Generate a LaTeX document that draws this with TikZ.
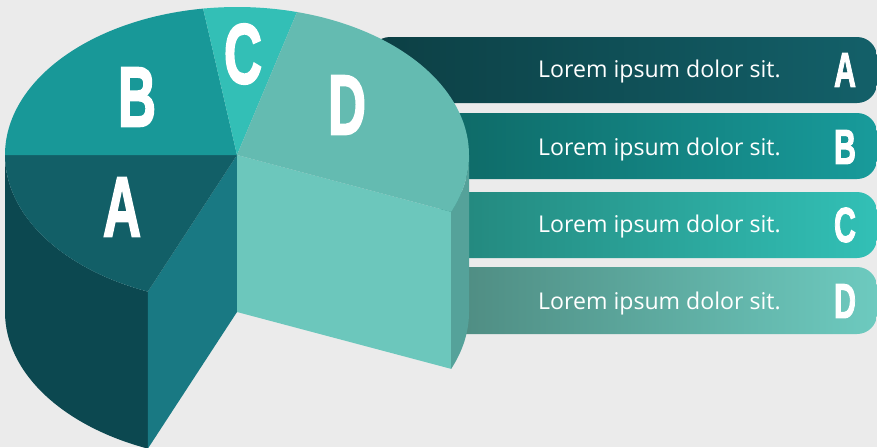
\documentclass[tikz,border=0pt]{standalone}
\usepackage{fontspec}
\setmainfont{Open Sans}
\newfontfamily\letterfont{Liberation Sans}[UprightFont=*-Bold, FakeBold=2.5]
\usetikzlibrary{calc}
\definecolor{bg}{HTML}{EBEBEB}
\definecolor{Atop}{HTML}{125F67}
\definecolor{Aside}{HTML}{0C4850}
\definecolor{Acut}{HTML}{197983}
\definecolor{Btop}{HTML}{189898}
\definecolor{Ctop}{HTML}{33BFB6}
\definecolor{Dtop}{HTML}{64BBB1}
\definecolor{Dcut}{HTML}{6CC7BC}
\definecolor{Dside}{HTML}{55A29A}
\definecolor{barAl}{HTML}{0C3F44}
\definecolor{barAr}{HTML}{136069}
\definecolor{barBl}{HTML}{0E6966}
\definecolor{barBr}{HTML}{189B9B}
\definecolor{barCl}{HTML}{23867C}
\definecolor{barCr}{HTML}{32C0B6}
\definecolor{barDl}{HTML}{4E8A80}
\definecolor{barDr}{HTML}{6DCABF}
\tikzset{
  bar/.style={rounded corners=20pt},
  ell/.style={x radius=232, y radius=148},
  pieletter/.style={text=white, inner sep=0pt, font=\letterfont\fontsize{85}{85}\selectfont},
  barletter/.style={text=white, inner sep=0pt, anchor=center, font=\letterfont\fontsize{49}{49}\selectfont},
  bartext/.style={text=white, inner sep=0pt, anchor=base west, font=\fontsize{23.1}{23.1}\selectfont},
}
\begin{document}
\begin{tikzpicture}[x=1pt,y=-1pt]
\fill[bg] (0,0) rectangle (877,447);
\useasboundingbox (0,0) rectangle (877,447);
% bars
\shade[bar, left color=barAl, right color=barAr] (370,37) rectangle (877,103);
\shade[bar, left color=barBl, right color=barBr] (440,113) rectangle (877,179);
\shade[bar, left color=barCl, right color=barCr] (440,192) rectangle (877,258);
\shade[bar, left color=barDl, right color=barDr] (440,267) rectangle (877,334);
\node[bartext] (tA) at (538,77.7) {Lorem ipsum dolor sit.};
\node[bartext] (tB) at (538,155.5) {Lorem ipsum dolor sit.};
\node[bartext] (tC) at (538,232.7) {Lorem ipsum dolor sit.};
\node[bartext] (tD) at (538,309.3) {Lorem ipsum dolor sit.};
\node[barletter] (lA) at (845,70) {\scalebox{0.62}[1]{A}};
\node[barletter] (lB) at (845,147) {\scalebox{0.62}[1]{B}};
\node[barletter] (lC) at (845,225) {\scalebox{0.62}[1]{C}};
\node[barletter] (lD) at (845,301) {\scalebox{0.62}[1]{D}};
% pie
\coordinate (O) at (237,155);
\coordinate (Ob) at (237,312);
\coordinate (P0) at ($(O)+(0:232 and 148)$);
\coordinate (P22) at ($(O)+(22.6:232 and 148)$);
\coordinate (P112) at ($(O)+(112.6:232 and 148)$);
\coordinate (P180) at ($(O)+(180:232 and 148)$);
\coordinate (P261) at ($(O)+(261.6:232 and 148)$);
\coordinate (P285) at ($(O)+(285:232 and 148)$);
% A outer side
\fill[Aside] (P112) arc[start angle=112.6, end angle=180, ell]
  -- ++(0,157) arc[start angle=180, end angle=112.6, ell] -- cycle;
% A cut face
\fill[Acut] (O) -- (P112) -- ++(0,157) -- (Ob) -- cycle;
% D cut face
\fill[Dcut] (O) -- (P22) -- ++(0,157) -- (Ob) -- cycle;
% D outer side
\fill[Dside] (P0) arc[start angle=0, end angle=22.6, ell]
  -- ++(0,157) arc[start angle=22.6, end angle=0, ell] -- cycle;
% tops
\fill[Atop] (O) -- (P112) arc[start angle=112.6, end angle=180, ell] -- cycle;
\fill[Btop] (O) -- (P180) arc[start angle=180, end angle=261.6, ell] -- cycle;
\fill[Ctop] (O) -- (P261) arc[start angle=261.6, end angle=285, ell] -- cycle;
\fill[Dtop] (O) -- (P285) arc[start angle=285, end angle=382.6, ell] -- cycle;
\node[pieletter] (pA) at (122,207) {\scalebox{0.62}[1]{A}};
\node[pieletter] (pB) at (137,97) {\scalebox{0.62}[1]{B}};
\node[pieletter] (pC) at (243,54) {\scalebox{0.62}[1]{C}};
\node[pieletter] (pD) at (347,105) {\scalebox{0.62}[1]{D}};
\end{tikzpicture}
\end{document}
